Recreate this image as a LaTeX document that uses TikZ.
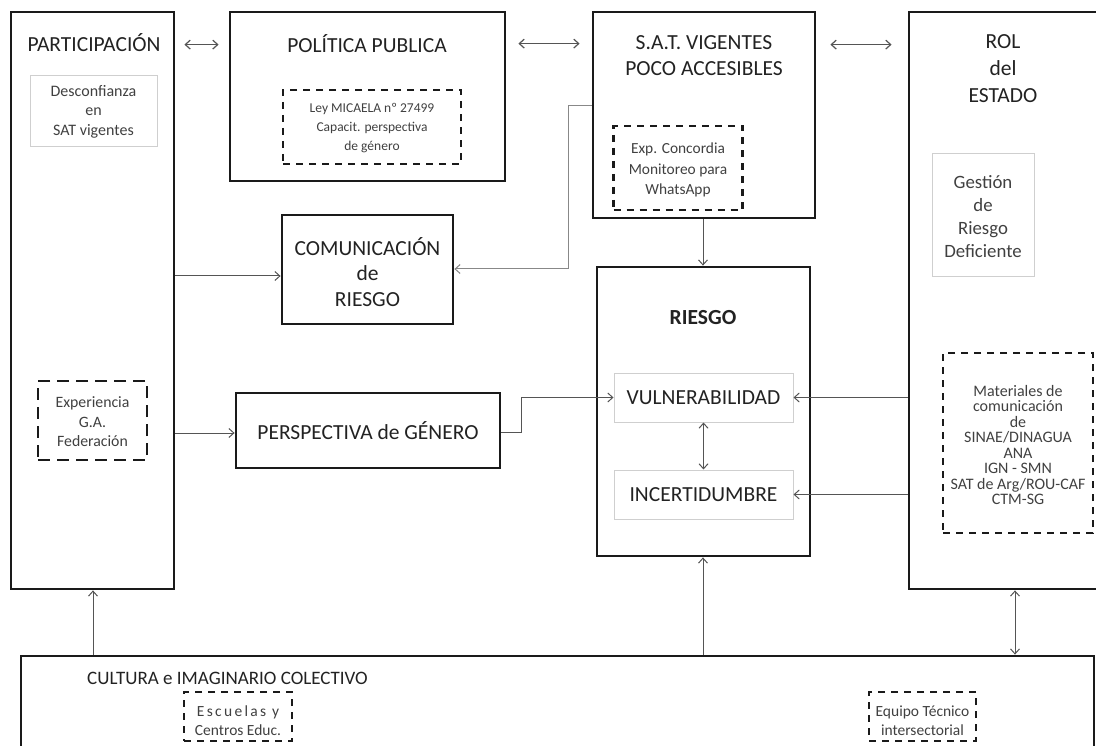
\documentclass[tikz,border=0pt]{standalone}
\usepackage{fontspec}
\setmainfont{Carlito}
\newfontfamily\spacedfont[LetterSpace=15]{Carlito}
\usetikzlibrary{arrows.meta}
\definecolor{boxcol}{HTML}{1A1A1A}
\definecolor{softcol}{HTML}{CFCFCF}
\definecolor{titlecol}{HTML}{222222}
\definecolor{notecol}{HTML}{404040}
\definecolor{conncol}{HTML}{555555}
\tikzset{
  heavybox/.style={draw=boxcol, line width=2.8pt, inner sep=0pt},
  softbox/.style={draw=softcol, line width=1pt, inner sep=0pt},
  dotbox/.style={draw=boxcol, line width=2.8pt, dash pattern=on 7pt off 6pt, inner sep=0pt},
  longdashbox/.style={draw=boxcol, line width=2.8pt, dash pattern=on 12pt off 7pt, inner sep=0pt},
  title/.style={text=titlecol, font=\fontsize{21.5}{26}\selectfont, align=center, inner sep=0pt},
  note/.style={text=notecol, font=\fontsize{15.5}{19.5}\selectfont, align=center, inner sep=0pt},
  barb/.tip={Straight Barb[length=5pt,width=9pt]},
  conn/.style={draw=conncol, line width=1pt, -barb},
  dconn/.style={draw=conncol, line width=1pt, barb-barb},
}
\begin{document}
\begin{tikzpicture}[x=1pt,y=-1pt]
\path[use as bounding box] (0,0) rectangle (1096,746);
\clip (0,0) rectangle (1096,746);

% main frames
\node[heavybox, minimum width=163pt, minimum height=577pt] (part) at (92.5,300.5) {};
\node[heavybox, minimum width=275pt, minimum height=169pt] (pol) at (367.5,96.5) {};
\node[heavybox, minimum width=222pt, minimum height=206pt] (sat) at (704,115) {};
\node[heavybox, minimum width=201pt, minimum height=577pt] (rol) at (1009.5,300.5) {};
\node[heavybox, minimum width=171pt, minimum height=109pt] (com) at (367.5,269.5) {};
\node[heavybox, minimum width=264pt, minimum height=75pt] (persp) at (368,430.5) {};
\node[heavybox, minimum width=213pt, minimum height=289pt] (riesgo) at (703.5,411.5) {};
\node[heavybox, minimum width=1073pt, minimum height=103pt] (cultura) at (557.5,707.5) {};

% inner boxes
\node[softbox, minimum width=127pt, minimum height=71pt] (desc) at (93.5,111.5) {};
\node[softbox, minimum width=102pt, minimum height=123pt] (gest) at (983,215.5) {};
\node[softbox, minimum width=179pt, minimum height=49pt] (vuln) at (703.5,397.5) {};
\node[softbox, minimum width=179pt, minimum height=49pt] (incert) at (703.5,494.5) {};
\node[dotbox, minimum width=178pt, minimum height=74pt] (ley) at (372,127) {};
\node[dotbox, minimum width=129pt, minimum height=84pt] (conc) at (678,168) {};
\node[dotbox, minimum width=150pt, minimum height=180pt] (mat) at (1018,443) {};
\node[longdashbox, minimum width=109pt, minimum height=79pt] (gaexp) at (92.5,420.5) {};
\node[dotbox, minimum width=108pt, minimum height=49pt] (esc) at (238,716.5) {};
\node[dotbox, minimum width=107pt, minimum height=49pt] (equ) at (922.5,716.5) {};

% titles
\node[title] (partT) at (94,43) {PARTICIPACIÓN};
\node[title] (polT) at (367,44) {POLÍTICA PUBLICA};
\node[title, font=\fontsize{21.5}{26}\selectfont] (satT) at (704,56) {S.A.T. VIGENTES\\POCO ACCESIBLES};
\node[title, font=\fontsize{21.5}{27}\selectfont] (rolT) at (1003,69) {ROL\\del\\ESTADO};
\node[title, font=\fontsize{21.5}{25.5}\selectfont] (comT) at (367.5,272) {COMUNICACIÓN\\de\\RIESGO};
\node[title] (perspT) at (persp.center) {PERSPECTIVA de GÉNERO};
\node[title, font=\bfseries\fontsize{21.5}{26}\selectfont] (riesgoT) at (703,318) {RIESGO};
\node[title] (vulnT) at (vuln.center) {VULNERABILIDAD};
\node[title] (incertT) at (incert.center) {INCERTIDUMBRE};
\node[title, font=\fontsize{19}{23}\selectfont, anchor=west] (culturaT) at (87,678) {CULTURA e IMAGINARIO COLECTIVO};

% notes
\node[note, font=\fontsize{16}{19.5}\selectfont] (descT) at (93.5,111.5) {Desconfianza\\en\\SAT vigentes};
\node[note, font=\fontsize{13.5}{19}\selectfont] (leyT) at (372,128) {Ley MICAELA nº 27499\\Capacit. perspectiva\\de género};
\node[note, font=\fontsize{15.4}{20.5}\selectfont] (concT) at (678,170) {Exp. Concordia\\Monitoreo para\\WhatsApp};
\node[note, font=\fontsize{18.8}{23}\selectfont] (gestT) at (983,217) {Gestión\\de\\Riesgo\\Deficiente};
\node[note, font=\fontsize{16}{15.5}\selectfont] (matT) at (1018,445) {Materiales de\\comunicación\\de\\SINAE/DINAGUA\\ANA\\IGN - SMN\\SAT de Arg/ROU-CAF\\CTM-SG};
\node[note, font=\fontsize{15.8}{19.5}\selectfont] (gaexpT) at (92.5,422) {Experiencia\\G.A.\\Federación};
\node[note, font=\fontsize{15.5}{19}\selectfont] (escT) at (238,721) {{\spacedfont Escuelas y}\\Centros Educ.};
\node[note, font=\fontsize{15.5}{19}\selectfont] (equT) at (922.5,721) {Equipo Técnico\\intersectorial};

% connectors between the top frames
\draw[dconn, line width=1.2pt] ([shift={(9,34)}]part.north east) -- ([shift={(-10,34)}]pol.north west);
\draw[dconn, line width=1.2pt] ([shift={(12,33)}]pol.north east) -- ([shift={(-12,33)}]sat.north west);
\draw[dconn, line width=1.2pt] ([shift={(14,34)}]sat.north east) -- ([shift={(-16,34)}]rol.north west);

% connectors to the communication and gender frames
\draw[conn] (part.east |- 0,276) -- (com.west |- 0,276);
\draw[conn, draw=conncol!70] (sat.west |- 0,106) -| (568,269) -- (com.east |- 0,269);
\draw[conn] (part.east |- 0,433) -- (persp.west |- 0,433);
\draw[conn] (persp.east |- 0,432) -| (521,397.5) -- (vuln.west);

% connectors into the risk frame
\draw[conn] (703,0 |- sat.south) -- (703,0 |- riesgo.north);
\draw[dconn] (vuln.south) -- (incert.north);
\draw[conn] (rol.west |- vuln.east) -- (vuln.east);
\draw[conn] (rol.west |- incert.east) -- (incert.east);

% connectors from the culture frame
\draw[conn] (93,0 |- cultura.north) -- (93,0 |- part.south);
\draw[conn] (703,0 |- cultura.north) -- (703,0 |- riesgo.south);
\draw[dconn] (1015,0 |- cultura.north) -- (1015,0 |- rol.south);
\end{tikzpicture}
\end{document}
